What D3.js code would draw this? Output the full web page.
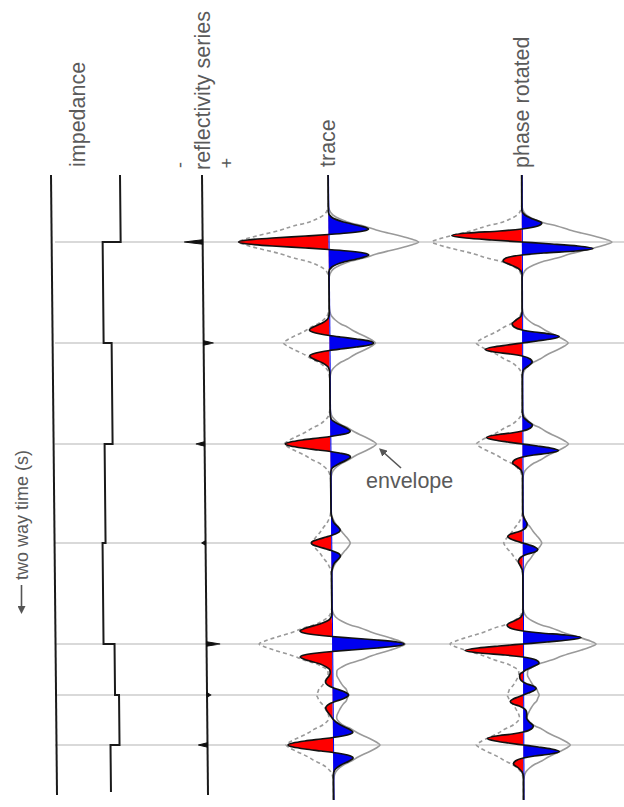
<!DOCTYPE html>
<html><head><meta charset="utf-8">
<script src="https://cdn.jsdelivr.net/npm/d3@7"></script>
<style>
  html, body { margin: 0; padding: 0; background: #fff; }
  svg { display: block; }
  text { font-family: "Liberation Sans", Arial, Helvetica, sans-serif; fill: #5a5a5a; }
</style>
</head><body>
<svg id="chart" width="624" height="807"></svg>
<script>
// Two-way times of the reflectors (ms below the top of the section)
const reflectorTimes = [67, 168, 269, 368, 469, 520, 570];
// Layer boundaries, top to bottom (ms)
const layerTops = [0, 67, 168, 269, 368, 469, 520, 570];
const sectionEnd = 617;
// Acoustic impedance of each layer
const impedance = [6.9, 5.1, 5.9, 5.1, 4.8, 5.9, 6.3, 5.4];
// Reflection coefficient at each reflector
const reflectivity = [-0.15, 0.08, -0.07, -0.03, 0.11, 0.03, -0.075];

// Zero-phase synthetic trace: [time, amplitude]
const traceSamples = [
  [0,0],
  [37,0],[42,3],[47,15],[51,32],[54,40],[56,35],[58,19],[59.5,0],[61,-23],[63,-56],[65,-81],[67,-90],
  [69,-81],[71,-56],[73,-23],[74.5,0],[76,19],[78,35],[80,40],[83,32],[87,15],[92,3],[97,0],
  [138,0],[143,-1],[148,-7],[152,-16],[155,-20],[157,-17],[159,-9],[160.5,0],[162,11],[164,27],[166,40],[168,44],
  [170,40],[172,27],[174,11],[175.5,0],[177,-9],[179,-17],[181,-20],[184,-16],[188,-7],[193,-1],[198,0],
  [239,0],[244,1],[249,8],[253,16],[256,20],[258,18],[260,9],[261.5,0],[263,-12],[265,-28],[267,-40],[269,-45],
  [271,-40],[273,-28],[275,-12],[276.5,0],[278,9],[280,18],[282,20],[285,16],[289,8],[294,1],[299,0],
  [338,0],[343,1],[348,3],[352,7],[355,9],[357,8],[359,4],[360.5,0],[362,-5],[364,-12],[366,-18],[368,-20],
  [370,-18],[372,-12],[374,-5],[375.5,0],[377,4],[379,8],[381,9],[384,7],[388,3],[393,1],[398,0],
  [439,0],[444,-2],[449,-12],[453,-26],[456,-32],[458,-28],[460,-15],[461.5,0],[463,19],[465,45],[467,65],[469,72],
  [471,65],[473,45],[475,19],[476.5,0],[478,-15],[480,-28],[482,-32],[485,-26],[489,-12],[492,-6],[495,-2.5],
  [498,-2.2],[501,-3.5],[504,-5.8],[507,-7],[509,-6],[511,-3.4],[512.5,0],[514,4],[516,10],[518,14],[520,16],
  [522,14],[524,10],[526,4],[527.5,0],[529,-3.4],[531,-6],[533,-7],[536,-5.8],[540,-2.8],[543,-0.7],[544,0],
  [550,7.7],[554,16],[557,20],[559,17.5],[561,9.5],[562.5,0],[564,-12],[566,-28],[568,-40],[570,-45],
  [572,-40],[574,-28],[576,-12],[577.5,0],[579,9.5],[581,17.5],[583,20],[586,16],[590,7.7],[595,1.4],[600,0],
  [625,0]
];

// Phase-rotated trace: [time, amplitude]
const rotatedSamples = [
  [0,0],
  [35,0],[40,3],[44,11],[48,20],[51,16],[54,0],[56,-22],[58,-54],[60.5,-70],[63,-56],[65,-30],[67,0],
  [69,30],[71,56],[73.5,71],[76,54],[78,22],[80,0],[83,-16],[86,-19],[90,-11],[94,-3],[99,0],
  [136,0],[141,-1],[145,-6],[149,-10],[152,-8],[155,0],[157,12],[159,28],[161.5,37],[164,29],[166,15],[168,0],
  [170,-15],[172,-29],[174.5,-37],[177,-28],[179,-12],[181,0],[184,8],[187,10],[191,6],[195,1],[200,0],
  [237,0],[242,1],[246,5],[250,10],[253,8],[256,0],[258,-11],[260,-27],[262.5,-36],[265,-28],[267,-15],[269,0],
  [271,15],[273,28],[275.5,36],[278,27],[280,11],[282,0],[285,-8],[288,-10],[292,-5],[296,-1],[301,0],
  [336,0],[341,0.6],[345,2.4],[349,4.4],[352,3.6],[355,0],[357,-5],[359,-12],[361.5,-15],[364,-12],[366,-6.6],[368,0],
  [370,6.6],[372,12],[374.5,15],[377,12],[379,5],[381,0],[384,-3.6],[387,-4.4],[391,-2.4],[395,-0.6],[400,0],
  [437,0],[442,-2],[446,-9],[450,-16],[453,-13],[456,0],[458,18],[460,43],[462.5,58],[465,45],[467,24],[469,0],
  [471,-24],[473,-45],[475.5,-58],[478,-43],[480,-18],[482,0],[485,13],[488,16],[492,9],[496,1],[497,0],
  [499,-3],[501,-3.5],[504,-3],[507,0],[509,4],[511,10],[513.5,13],[516,10],[518,5],[520,0],[522,-5],[524,-10],
  [526.5,-13],[529,-10],[531,-4],[533,0],[536,3],[539,3.5],[543,3.3],[547,6],[551,10],[554,8],[557,0],
  [559,-11],[561,-27],[563.5,-36],[566,-28],[568,-15],[570,0],[572,15],[574,28],[576.5,36],[579,27],[581,11],
  [583,0],[586,-8],[589,-10],[593,-5],[597,-1.4],[602,0],
  [625,0]
];

// Instantaneous amplitude (envelope), shared by both traces: [time, amplitude]
const envelopeSamples = [
  [0,0],
  [29,0],[35,1.1],[40,4.5],[44,11.7],[48,22.5],[51,35.1],[55,47.7],[58,59.4],[61,72],[64,82.8],[67,90],
  [70,82.8],[73,72],[76,59.4],[79,47.7],[83,35.1],[86,22.5],[90,11.7],[94,4.5],[99,1.1],[105,0],
  [130,0],[136,0.6],[141,2.3],[145,6],[149,11.5],[152,17.9],[156,24.4],[159,30.4],[162,36.8],[165,42.3],[168,46],
  [171,42.3],[174,36.8],[177,30.4],[180,24.4],[184,17.9],[187,11.5],[191,6],[195,2.3],[200,0.6],[206,0],
  [231,0],[237,0.6],[242,2.3],[246,6],[250,11.5],[253,17.9],[257,24.4],[260,30.4],[263,36.8],[266,42.3],[269,46],
  [272,42.3],[275,36.8],[278,30.4],[281,24.4],[285,17.9],[288,11.5],[292,6],[296,2.3],[301,0.6],[307,0],
  [330,0],[336,0.2],[341,0.95],[345,2.5],[349,4.8],[352,7.4],[356,10.1],[359,12.5],[362,15.2],[365,17.5],[368,19],
  [371,17.5],[374,15.2],[377,12.5],[380,10.1],[384,7.4],[387,4.8],[391,2.5],[395,0.95],[400,0.2],[406,0],
  [431,0],[437,0.9],[442,3.7],[446,9.5],[450,18.3],[453,28.5],[457,38.7],[460,48.2],[463,58.4],[466,67.2],[469,73],
  [472,67.2],[475,58.4],[478,48.2],[481,38.7],[485,28.5],[488,18.3],[492,9.5],[496,4.5],[500,4.3],[504,6.2],
  [508,8.5],[511,10.6],[514,13.5],[517,14.7],[520,16],[523,14.7],[526,13.5],[529,10.6],[532,8.5],[536,6.2],
  [540,4.3],[543,3.8],[547,6.3],[551,11.8],[554,18.3],[558,24.9],[561,31],[564,37.6],[567,43.2],[570,47],
  [573,43.2],[576,37.6],[579,31],[582,24.9],[586,18.3],[589,11.8],[593,6.1],[597,2.4],[602,0.6],[608,0],
  [625,0]
];

const columnLabels = ["impedance", "reflectivity series", "trace", "phase rotated"];
const axisLabel = "two way time (s)";
const calloutLabel = "envelope";

// ---- layout ----
const W = 624, H = 807;
const yTop = 175;
const labelSize = 21.5;
const svg = d3.select("#chart");
const y = d3.scaleLinear().domain([0, 625]).range([yTop, yTop + 625]);
const amp = d3.scaleLinear().domain([-100, 100]).range([-100, 100]);
const zScale = d3.scaleLinear().domain([0, 7]).range([0, 70]);
const rScale = d3.scaleLinear().domain([-0.15, 0.15]).range([-18.5, 18.5]);

// each column is a group whose local x = 0 is its baseline; a slight lean with depth
function column(x0, lean) {
  const tan = lean / 620;
  const deg = Math.atan(tan) * 180 / Math.PI;
  return svg.append("g")
    .attr("transform", `translate(${x0 - yTop * tan},0) skewX(${deg})`);
}

// clip regions (local to each column)
const defs = svg.append("defs");
defs.append("clipPath").attr("id", "pos").attr("clipPathUnits", "userSpaceOnUse")
  .append("rect").attr("x", 0).attr("y", 0).attr("width", 200).attr("height", H);
defs.append("clipPath").attr("id", "neg").attr("clipPathUnits", "userSpaceOnUse")
  .append("rect").attr("x", -200).attr("y", 0).attr("width", 200).attr("height", H);
defs.append("marker").attr("id", "head").attr("viewBox", "0 0 10 10")
  .attr("refX", 5).attr("refY", 5).attr("markerWidth", 5).attr("markerHeight", 5)
  .attr("orient", "auto-start-reverse")
  .append("path").attr("d", "M0,0 L10,5 L0,10 Z").attr("fill", "#555");

// reflector lines across the section
svg.append("g").selectAll("line").data(reflectorTimes).join("line")
  .attr("x1", 55).attr("x2", W)
  .attr("y1", d => y(d)).attr("y2", d => y(d))
  .attr("stroke", "#b4b4b4").attr("stroke-width", 1.2);

// impedance: reference line and stepped log
const gImp = column(51, 6);
gImp.append("line").attr("x1", 0).attr("x2", 0).attr("y1", y(0)).attr("y2", y(620))
  .attr("stroke", "#1a1a1a").attr("stroke-width", 2);
const impPoints = layerTops.map((t, i) => [t, impedance[i]]);
impPoints.push([sectionEnd, impedance[impedance.length - 1]]);
gImp.append("path")
  .attr("d", d3.line().x(d => zScale(d[1])).y(d => y(d[0])).curve(d3.curveStepBefore)(impPoints))
  .attr("fill", "none").attr("stroke", "#1a1a1a").attr("stroke-width", 2);

// reflectivity series: spikes on a baseline
const gRef = column(202, 6);
gRef.append("line").attr("x1", 0).attr("x2", 0).attr("y1", y(0)).attr("y2", y(620))
  .attr("stroke", "#1a1a1a").attr("stroke-width", 2);
gRef.selectAll("path.spike").data(reflectorTimes).join("path")
  .attr("class", "spike")
  .attr("d", (t, i) => {
    const L = rScale(reflectivity[i]), yy = y(t);
    return `M0,${yy - 2.2} L${L},${yy} L0,${yy + 2.2} Z`;
  })
  .attr("fill", "#111").attr("stroke", "#111").attr("stroke-width", 1);

// wiggle trace with envelope and coloured lobes
function drawTrace(g, samples) {
  const envR = d3.line().x(d => amp(d[1])).y(d => y(d[0])).curve(d3.curveMonotoneY);
  const envL = d3.line().x(d => -amp(d[1])).y(d => y(d[0])).curve(d3.curveMonotoneY);
  g.append("path").attr("d", envR(envelopeSamples))
    .attr("fill", "none").attr("stroke", "#9a9a9a").attr("stroke-width", 1.6);
  g.append("path").attr("d", envL(envelopeSamples))
    .attr("fill", "none").attr("stroke", "#9a9a9a").attr("stroke-width", 1.6)
    .attr("stroke-dasharray", "4,3");
  const area = d3.area().x0(0).x1(d => amp(d[1])).y(d => y(d[0])).curve(d3.curveMonotoneY);
  g.append("path").attr("d", area(samples)).attr("fill", "#0000f0").attr("clip-path", "url(#pos)");
  g.append("path").attr("d", area(samples)).attr("fill", "#ff0000").attr("clip-path", "url(#neg)");
  g.append("line").attr("x1", 0.5).attr("x2", 0.5).attr("y1", y(0)).attr("y2", y(625))
    .attr("stroke", "#0000f0").attr("stroke-width", 1);
  const wig = d3.line().x(d => amp(d[1])).y(d => y(d[0])).curve(d3.curveMonotoneY);
  g.append("path").attr("d", wig(samples))
    .attr("fill", "none").attr("stroke", "#111").attr("stroke-width", 1.7);
}
drawTrace(column(328, 5.5), traceSamples);
drawTrace(column(521.7, 1.8), rotatedSamples);

// column titles (rotated)
const titlePos = [[85, 167], [210, 170], [335, 167], [529, 168]];
svg.append("g").selectAll("text").data(columnLabels).join("text")
  .attr("transform", (d, i) => `translate(${titlePos[i][0]},${titlePos[i][1]}) rotate(-90)`)
  .attr("font-size", labelSize)
  .text(d => d);
svg.append("text").attr("transform", "translate(180,165) rotate(-90)")
  .attr("text-anchor", "middle").attr("dominant-baseline", "central").attr("font-size", 18).text("-");
svg.append("text").attr("transform", "translate(227,163) rotate(-90)")
  .attr("text-anchor", "middle").attr("dominant-baseline", "central").attr("font-size", 18).text("+");

// time axis label with downward arrow
svg.append("text").attr("transform", "translate(28,580) rotate(-90)")
  .attr("font-size", 18).text(axisLabel);
svg.append("line").attr("x1", 21.5).attr("x2", 21.5).attr("y1", 585).attr("y2", 610)
  .attr("stroke", "#555").attr("stroke-width", 1.6).attr("marker-end", "url(#head)");

// envelope callout
svg.append("text").attr("x", 366).attr("y", 488).attr("font-size", labelSize).text(calloutLabel);
svg.append("line").attr("x1", 401).attr("y1", 468).attr("x2", 382).attr("y2", 451)
  .attr("stroke", "#555").attr("stroke-width", 1.6).attr("marker-end", "url(#head)");
</script>
</body></html>
